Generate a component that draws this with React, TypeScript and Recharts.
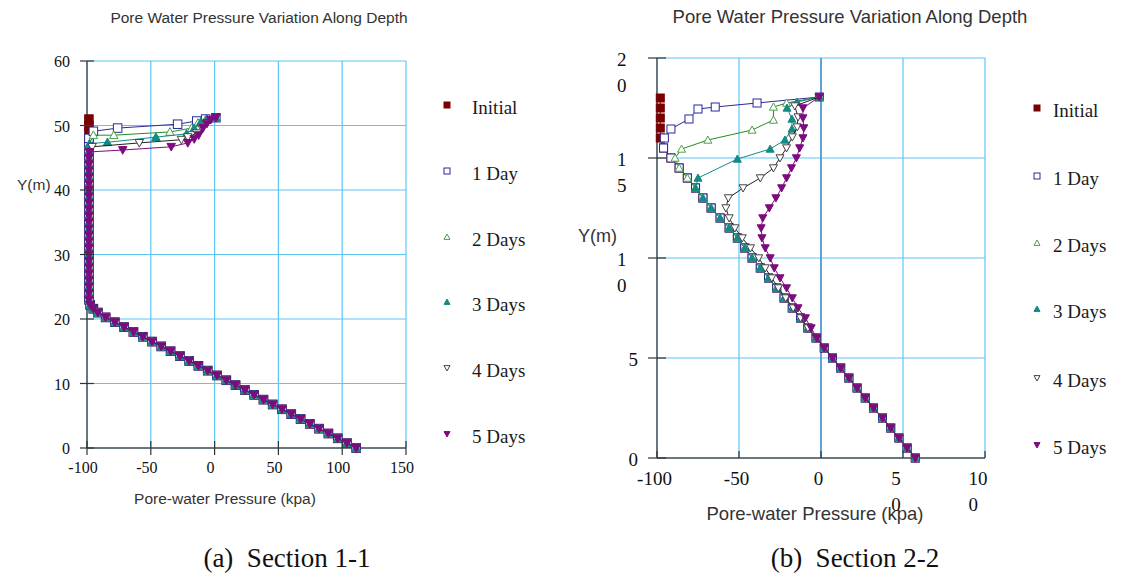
import { CartesianGrid, ReferenceLine, Scatter, ScatterChart, XAxis, YAxis } from 'recharts'

type Pair = [number, number] // [pore-water pressure kPa, Y m]

const seriesNames = ['Initial', '1 Day', '2 Days', '3 Days', '4 Days', '5 Days']

// ---- Section 1-1 ----
const s1XTicks = [-100, -50, 0, 50, 100, 150]
const s1YTicks = [0, 10, 20, 30, 40, 50, 60]

// hydrostatic part + suction cap, shared by every day
const s1Base: Pair[] = [
  [111, 0], [103.7, 0.75], [96.5, 1.5], [89.2, 2.25], [81.9, 3], [74.6, 3.75],
  [67.4, 4.5], [60.1, 5.25], [52.8, 6], [45.5, 6.75], [38.3, 7.5], [31, 8.25],
  [23.7, 9], [16.4, 9.75], [9.2, 10.5], [1.9, 11.25], [-5.4, 12], [-12.7, 12.75],
  [-19.9, 13.5], [-27.2, 14.25], [-34.5, 15], [-41.8, 15.75], [-49, 16.5], [-56.3, 17.25],
  [-63.6, 18], [-70.9, 18.75], [-78.2, 19.5], [-85.4, 20.25], [-91.5, 21], [-95, 21.6],
  [-97.5, 22.2], [-98.5, 23], [-98.5, 24], [-98.5, 25], [-98.5, 26], [-98.5, 27],
  [-98.5, 28], [-98.5, 29], [-98.5, 30], [-98.5, 31], [-98.5, 32], [-98.5, 33],
  [-98.5, 34], [-98.5, 35], [-98.5, 36], [-98.5, 37], [-98.5, 38], [-98.5, 39],
  [-98.5, 40], [-98.5, 41], [-98.5, 42], [-98.5, 43], [-98.5, 44], [-98.5, 45],
]
const s1Initial: Pair[] = [[-98.5, 46], [-98.5, 47], [-98.5, 48], [-98.5, 49], [-98.5, 50], [-98.5, 51]]
const s1Day1: Pair[] = [[-98.5, 46], [-98.5, 47], [-98.5, 48], [-95, 49.1], [-76, 49.6], [-29, 50.2], [-14, 50.7], [-7, 51], [1, 51.2]]
const s1Day2: Pair[] = [[-98.5, 46], [-98.5, 47], [-95, 48.5], [-79, 48.5], [-35, 49], [-18, 49.6], [-13, 50.4], [-7, 50.9], [1, 51.2]]
const s1Day3: Pair[] = [[-98.5, 46], [-98, 47.2], [-84, 47.4], [-46, 48.2], [-22, 48.7], [-16, 49.6], [-11, 50.5], [-6, 51], [1, 51.2]]
const s1Day4: Pair[] = [[-98.5, 46], [-96, 46.7], [-59, 47.3], [-26, 47.8], [-21, 48.2], [-14, 48.8], [-10, 49.6], [-6, 50.4], [1, 51.2]]
const s1Day5: Pair[] = [[-98, 45.9], [-72, 46.2], [-34, 46.7], [-21, 47.3], [-16, 47.9], [-12.5, 48.5], [-9, 49.6], [-6, 50.3], [-3, 50.9], [1, 51.2]]

// ---- Section 2-2 ----
const s2XTicks = [-100, -50, 0, 50, 100]
const s2YTicks = [0, 5, 10, 15, 20]
const s2XTickText = [['-100'], ['-50'], ['0'], ['5', '0'], ['10', '0']]
const s2YTickText = [['0'], ['5'], ['1', '0'], ['1', '5'], ['2', '0']]

const s2Base: Pair[] = [
  [57.5, 0], [52.5, 0.5], [47.5, 1], [42.5, 1.5], [37.5, 2], [32, 2.5], [27, 3], [22, 3.5],
  [17, 4], [12, 4.5], [7, 5], [2, 5.5], [-3, 6], [-8, 6.5], [-12.5, 7], [-17.5, 7.5],
  [-22.5, 8], [-27, 8.5], [-32, 9], [-37, 9.5], [-42, 10], [-46.5, 10.5], [-51, 11], [-56, 11.5],
  [-61.5, 12], [-67, 12.5], [-72, 13], [-76.5, 13.5], [-81.5, 14], [-86.5, 14.5], [-91.5, 15], [-96, 15.5],
]
const s2Initial: Pair[] = [[-98, 16], [-98, 16.5], [-98, 17], [-98, 17.5], [-98, 18]]
const s2Day1: Pair[] = [[-95.5, 16], [-91.5, 16.45], [-80.5, 16.95], [-75, 17.45], [-64.5, 17.55], [-39, 17.75], [-1, 18.05]]
const s2Day2: Pair[] = [[-89, 15], [-85, 15.45], [-69, 15.9], [-42, 16.4], [-29, 16.9], [-29, 17.55], [-21, 17.75], [-1, 18.05]]
const s2Day3: Pair[] = [[-75, 14], [-51, 14.95], [-31, 15.45], [-22, 15.9], [-17.7, 16.45], [-17.7, 16.95], [-20.7, 17.5], [-14.6, 17.8], [-1, 18.05]]
const s2Day4: Pair[] = [
  [-17, 7.5], [-21.5, 8], [-26, 8.5], [-30, 9], [-34, 9.5], [-38, 10], [-43, 10.5], [-48, 11],
  [-52.5, 11.5], [-56, 12], [-58, 12.5], [-56.5, 13], [-47.5, 13.5], [-37, 14], [-29, 14.5], [-25, 15],
  [-21, 15.5], [-17.5, 16.05], [-14.5, 16.55], [-14, 17.05], [-16, 17.6], [-1, 18.05],
]
const s2Day5: Pair[] = [
  [-2.5, 6], [-6, 6.5], [-9.5, 7], [-14, 7.5], [-17.5, 8], [-21, 8.5], [-25, 9], [-28.5, 9.5],
  [-31, 10], [-34, 10.5], [-36, 11], [-36.5, 11.5], [-35.5, 12], [-31.5, 12.5], [-27.5, 13], [-24, 13.5],
  [-21, 14], [-18, 14.5], [-15, 15], [-13, 15.5], [-11, 16], [-10.5, 16.5], [-11, 17], [-11, 17.5], [-1, 18.05],
]

const SERIF = '"Liberation Serif", "Times New Roman", serif'
const SANS = '"Liberation Sans", Arial, sans-serif'
const GRID = '#5cc6f2'

type Kind = 'square' | 'tri' | 'triDown'
const styles: { kind: Kind; fill: string; stroke: string; line: string }[] = [
  { kind: 'square', fill: '#7a0000', stroke: '#7a0000', line: '#7a0000' },
  { kind: 'square', fill: '#ffffff', stroke: '#2a2a9a', line: '#2a2a9a' },
  { kind: 'tri', fill: '#ffffff', stroke: '#4e9e4e', line: '#238b23' },
  { kind: 'tri', fill: '#138a84', stroke: '#138a84', line: '#138a84' },
  { kind: 'triDown', fill: '#ffffff', stroke: '#444444', line: '#222222' },
  { kind: 'triDown', fill: '#7d0b7d', stroke: '#7d0b7d', line: '#7d0b7d' },
]

const join = (base: Pair[], top: Pair[]) => {
  const start = top[0][1]
  return [...base.filter(([, y]) => y < start), ...top].map(([p, y]) => ({ p, y }))
}

const s1Series = [s1Initial, s1Day1, s1Day2, s1Day3, s1Day4, s1Day5].map((t) => join(s1Base, t))
const s2Series = [s2Initial, s2Day1, s2Day2, s2Day3, s2Day4, s2Day5].map((t) => join(s2Base, t))

function Mark({ kind, x, y, s, fill, stroke }: { kind: Kind; x: number; y: number; s: number; fill: string; stroke: string }) {
  const h = s / 2
  if (kind === 'square')
    return <rect x={x - h} y={y - h} width={s} height={s} fill={fill} stroke={stroke} strokeWidth={1} />
  if (kind === 'tri')
    return <polygon points={`${x},${y - h} ${x + h},${y + h * 0.8} ${x - h},${y + h * 0.8}`} fill={fill} stroke={stroke} strokeWidth={1} />
  return <polygon points={`${x},${y + h} ${x + h},${y - h * 0.8} ${x - h},${y - h * 0.8}`} fill={fill} stroke={stroke} strokeWidth={1} />
}

function Txt({ cx, left, cy, size, font, children, color = '#222' }: any) {
  return (
    <div
      style={{
        position: 'absolute',
        left: cx !== undefined ? cx : left,
        top: cy - size * 0.6,
        transform: cx !== undefined ? 'translateX(-50%)' : undefined,
        fontFamily: font,
        fontSize: size,
        lineHeight: 1.2,
        color,
        whiteSpace: 'pre',
      }}
    >
      {children}
    </div>
  )
}

function Legend({ mx, tx, ys, size }: { mx: number; tx: number; ys: number[]; size: number }) {
  return (
    <>
      {seriesNames.map((n, i) => (
        <div key={n}>
          <svg style={{ position: 'absolute', left: mx - 6, top: ys[i] - 9 }} width={12} height={12}>
            <Mark kind={styles[i].kind} x={6} y={6} s={6} fill={styles[i].fill} stroke={styles[i].stroke} />
          </svg>
          <Txt left={tx} cy={ys[i]} size={size} font={SERIF} color="#1a1a1a">{n}</Txt>
        </div>
      ))}
    </>
  )
}

function S1YTick(props: any) {
  const { y, payload } = props
  const ax = 87
  return (
    <g>
      <line x1={ax - 7} x2={ax + 7} y1={y} y2={y} stroke="#333" strokeWidth={1.2} />
      <text x={ax - 17} y={y + 6} textAnchor="end" fontFamily={SERIF} fontSize={16} fill="#111">{payload.value}</text>
    </g>
  )
}

function S1XTick(props: any) {
  const { x, payload } = props
  const ay = 448
  return (
    <g>
      <line x1={x} x2={x} y1={ay - 7} y2={ay + 7} stroke="#333" strokeWidth={1.2} />
      <text x={x - 4} y={ay + 25} textAnchor="middle" fontFamily={SERIF} fontSize={16} fill="#111">{payload.value}</text>
    </g>
  )
}

function S2YTick(props: any) {
  const { y, payload } = props
  const ax = 97
  const lines = s2YTickText[s2YTicks.indexOf(payload.value)] || [String(payload.value)]
  return (
    <g>
      <line x1={ax - 9} x2={ax + 9} y1={y} y2={y} stroke="#333" strokeWidth={1.2} />
      {lines.length === 1 ? (
        <text x={ax - 19} y={y + 8} textAnchor="end" fontFamily={SERIF} fontSize={19} fill="#111">{lines[0]}</text>
      ) : (
        lines.map((l, i) => (
          <text key={i} x={ax - 40} y={y + 8 + i * 26} textAnchor="start" fontFamily={SERIF} fontSize={19} fill="#111">{l}</text>
        ))
      )}
    </g>
  )
}

function S2XTick(props: any) {
  const { x, payload } = props
  const ay = 458
  const lines = s2XTickText[s2XTicks.indexOf(payload.value)] || [String(payload.value)]
  const left = x - 7 - (lines[0].length * 9.5) / 2
  return (
    <g>
      <line x1={x} x2={x} y1={ay - 7} y2={ay} stroke="#333" strokeWidth={1.2} />
      {lines.length === 1 ? (
        <text x={x - 2.5} y={ay + 27} textAnchor="middle" fontFamily={SERIF} fontSize={19} fill="#111">{lines[0]}</text>
      ) : (
        lines.map((l, i) => (
          <text key={i} x={left} y={ay + 27 + i * 26} textAnchor="start" fontFamily={SERIF} fontSize={19} fill="#111">{l}</text>
        ))
      )}
    </g>
  )
}

const axisLine = { stroke: '#555', strokeWidth: 1.5 }

function Section1() {
  return (
    <ScatterChart width={430} height={520} margin={{ top: 61, right: 24, bottom: 0, left: 0 }}>
      <CartesianGrid stroke={GRID} strokeWidth={1.2} />
      <XAxis dataKey="p" type="number" domain={[-100, 150]} ticks={s1XTicks} interval={0} height={72} axisLine={axisLine} tickLine={false} tick={<S1XTick />} />
      <YAxis dataKey="y" type="number" domain={[0, 60]} ticks={s1YTicks} interval={0} width={87} axisLine={axisLine} tickLine={false} tick={<S1YTick />} />
      {s1Series.map((d, i) => (
        <Scatter
          key={seriesNames[i]}
          name={seriesNames[i]}
          data={d}
          line={{ stroke: styles[i].line, strokeWidth: 1 }}
          lineType="joint"
          isAnimationActive={false}
          shape={(p: any) => <Mark kind={styles[i].kind} x={p.cx} y={p.cy} s={8.5} fill={styles[i].fill} stroke={styles[i].stroke} />}
        />
      ))}
    </ScatterChart>
  )
}

function Section2() {
  return (
    <ScatterChart width={440} height={530} margin={{ top: 58, right: 15, bottom: 0, left: 0 }}>
      <CartesianGrid stroke={GRID} strokeWidth={1.2} />
      <ReferenceLine x={0} stroke="#4d8fc8" strokeWidth={1.5} />
      <XAxis dataKey="p" type="number" domain={[-100, 100]} ticks={s2XTicks} interval={0} height={72} axisLine={axisLine} tickLine={false} tick={<S2XTick />} />
      <YAxis dataKey="y" type="number" domain={[0, 20]} ticks={s2YTicks} interval={0} width={97} axisLine={axisLine} tickLine={false} tick={<S2YTick />} />
      {s2Series.map((d, i) => (
        <Scatter
          key={seriesNames[i]}
          name={seriesNames[i]}
          data={d}
          line={{ stroke: styles[i].line, strokeWidth: 1 }}
          lineType="joint"
          isAnimationActive={false}
          shape={(p: any) => <Mark kind={styles[i].kind} x={p.cx} y={p.cy} s={8} fill={styles[i].fill} stroke={styles[i].stroke} />}
        />
      ))}
    </ScatterChart>
  )
}

export default function App() {
  return (
    <div style={{ position: 'absolute', left: 0, top: 0, width: 1121, height: 575, background: '#fff', overflow: 'hidden' }}>
      <div style={{ position: 'absolute', left: 0, top: 0 }}>
        <Section1 />
      </div>
      <div style={{ position: 'absolute', left: 560, top: 0 }}>
        <Section2 />
      </div>

      <Txt cx={259} cy={18} size={15.5} font={SANS} color="#333">Pore Water Pressure Variation Along Depth</Txt>
      <Txt cx={850} cy={17} size={18.5} font={SANS} color="#333">Pore Water Pressure Variation Along Depth</Txt>
      <Txt left={17} cy={185} size={15.5} font={SANS} color="#333">Y(m)</Txt>
      <Txt left={578} cy={237} size={18} font={SANS} color="#333">Y(m)</Txt>
      <Txt cx={225} cy={499} size={15.5} font={SANS} color="#333">Pore-water Pressure (kpa)</Txt>
      <Txt cx={815} cy={514} size={18.5} font={SANS} color="#333">Pore-water Pressure (kpa)</Txt>

      <Legend mx={447} tx={472} ys={[108, 174, 240, 305, 371, 437]} size={19} />
      <Legend mx={1037} tx={1053} ys={[111, 179, 246, 312, 381, 448]} size={19} />

      <Txt cx={287} cy={558} size={27} font={SERIF} color="#111">{'(a)  Section 1-1'}</Txt>
      <Txt cx={855} cy={558} size={27} font={SERIF} color="#111">{'(b)  Section 2-2'}</Txt>
    </div>
  )
}
